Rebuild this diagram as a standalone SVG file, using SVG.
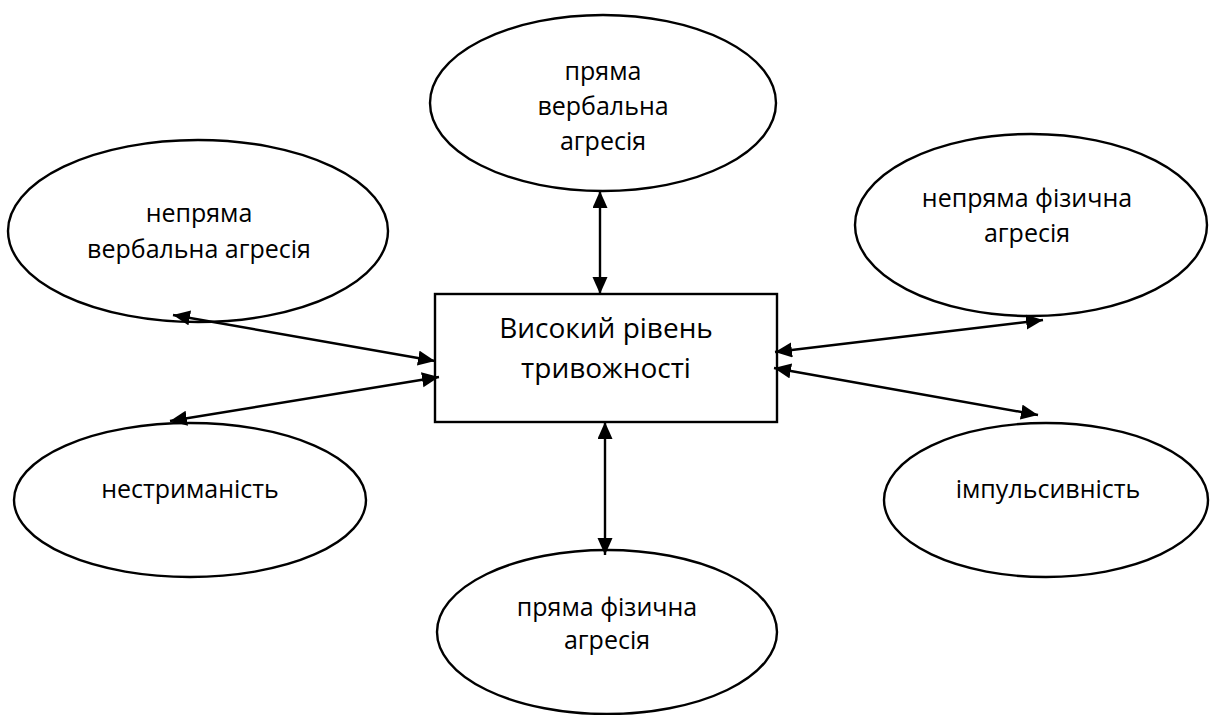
<svg xmlns="http://www.w3.org/2000/svg" width="1210" height="715" viewBox="0 0 1210 715">
  <style>
    .node { fill: #ffffff; stroke: #000000; stroke-width: 2.4; }
    .label { font-family: "Open Sans", "Noto Sans", "DejaVu Sans", sans-serif; font-size: 25px; fill: #000000; text-anchor: middle; }
    .center-label { font-size: 28px; }
    .link { stroke: #000000; stroke-width: 2.4; fill: none; marker-start: url(#arrow); marker-end: url(#arrow); }
  </style>
  <defs>
    <marker id="arrow" markerUnits="userSpaceOnUse" markerWidth="18" markerHeight="16" refX="17" refY="7.5" orient="auto-start-reverse">
      <path d="M0,0 L17,7.5 L0,15 Z" fill="#000000"/>
    </marker>
  </defs>
  <rect width="1210" height="715" fill="#ffffff"/>

  <g id="node-center">
    <rect class="node" x="435" y="294" width="342" height="128"/>
    <text class="label center-label" x="606" y="338">Високий рівень</text>
    <text class="label center-label" x="606" y="378">тривожності</text>
  </g>

  <g id="node-direct-verbal">
    <ellipse class="node" cx="603" cy="103" rx="173" ry="88"/>
    <text class="label" x="603" y="80">пряма</text>
    <text class="label" x="603" y="115">вербальна</text>
    <text class="label" x="603" y="150">агресія</text>
  </g>

  <g id="node-indirect-verbal">
    <ellipse class="node" cx="198" cy="231" rx="190" ry="91"/>
    <text class="label" x="199" y="222">непряма</text>
    <text class="label" x="199" y="258">вербальна агресія</text>
  </g>

  <g id="node-indirect-physical">
    <ellipse class="node" cx="1031" cy="225" rx="176" ry="91"/>
    <text class="label" x="1027" y="207">непряма фізична</text>
    <text class="label" x="1027" y="242">агресія</text>
  </g>

  <g id="node-restraint">
    <ellipse class="node" cx="190" cy="500" rx="176" ry="77"/>
    <text class="label" x="190" y="498">нестриманість</text>
  </g>

  <g id="node-impulsivity">
    <ellipse class="node" cx="1046" cy="500" rx="162" ry="77"/>
    <text class="label" x="1048" y="498">імпульсивність</text>
  </g>

  <g id="node-direct-physical">
    <ellipse class="node" cx="607" cy="632" rx="170" ry="82"/>
    <text class="label" x="607" y="616">пряма фізична</text>
    <text class="label" x="607" y="649">агресія</text>
  </g>

  <g id="connectors">
    <line class="link" x1="600" y1="191" x2="600" y2="294"/>
    <line class="link" x1="605" y1="422" x2="605" y2="555"/>
    <line class="link" x1="173" y1="315" x2="435" y2="361"/>
    <line class="link" x1="170" y1="421" x2="439" y2="377"/>
    <line class="link" x1="775" y1="352" x2="1043" y2="320"/>
    <line class="link" x1="774" y1="368" x2="1038" y2="415"/>
  </g>
</svg>
